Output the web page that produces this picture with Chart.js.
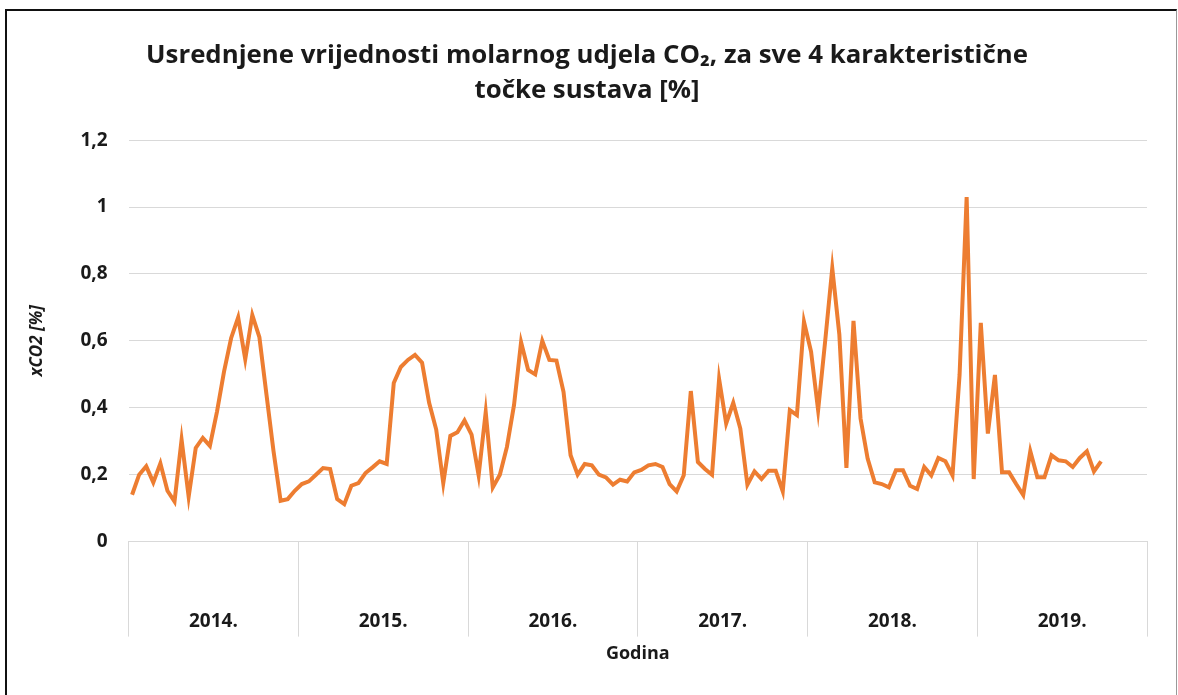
<!DOCTYPE html>
<html>
<head>
<meta charset="utf-8">
<script src="https://cdn.jsdelivr.net/npm/chart.js@4/dist/chart.umd.min.js"></script>
<style>
  html, body { margin: 0; padding: 0; background: #fff; }
  #frame {
    position: absolute; left: 5px; top: 9px; width: 1169px; height: 700px;
    border-top: 2px solid #111; border-left: 2px solid #111; border-right: 1px solid #999;
  }
  #wrap { position: absolute; left: 0; top: 0; width: 1178px; height: 695px; }
</style>
</head>
<body>
<div id="frame"></div>
<div id="wrap"><canvas id="chart-xco2"></canvas></div>
<script>
// Years shown on the category axis (24 half-month readings per year)
const years = ['2014.', '2015.', '2016.', '2017.', '2018.', '2019.'];
const periodsPerYear = 24;

// Averaged CO2 molar fraction [%] per period
const xco2_2014 = [0.14, 0.20, 0.225, 0.177, 0.234, 0.152, 0.12, 0.305, 0.134, 0.28, 0.31, 0.286,
                   0.388, 0.508, 0.608, 0.67, 0.545, 0.677, 0.611, 0.44, 0.27, 0.122, 0.127, 0.152];
const xco2_2015 = [0.172, 0.18, 0.20, 0.22, 0.217, 0.127, 0.112, 0.167, 0.175, 0.205, 0.222, 0.24,
                   0.232, 0.474, 0.522, 0.543, 0.558, 0.535, 0.415, 0.335, 0.175, 0.316, 0.327, 0.362];
const xco2_2016 = [0.32, 0.198, 0.387, 0.162, 0.2, 0.283, 0.408, 0.596, 0.513, 0.5, 0.6, 0.543,
                   0.541, 0.448, 0.258, 0.2, 0.232, 0.228, 0.2, 0.192, 0.17, 0.185, 0.18, 0.207];
const xco2_2017 = [0.214, 0.228, 0.232, 0.223, 0.172, 0.15, 0.198, 0.45, 0.238, 0.217, 0.2, 0.486,
                   0.353, 0.415, 0.338, 0.17, 0.21, 0.187, 0.212, 0.212, 0.15, 0.393, 0.378, 0.657];
const xco2_2018 = [0.568, 0.393, 0.6, 0.817, 0.619, 0.22, 0.66, 0.368, 0.248, 0.177, 0.172, 0.162,
                   0.213, 0.213, 0.167, 0.157, 0.223, 0.198, 0.25, 0.24, 0.198, 0.498, 1.03, 0.187];
const xco2_2019 = [0.654, 0.323, 0.498, 0.207, 0.207, 0.172, 0.139, 0.27, 0.192, 0.192, 0.258, 0.243,
                   0.24, 0.223, 0.25, 0.27, 0.21, 0.24];

// y axis ticks
const yMin = 0;
const yMax = 1.2;
const yStep = 0.2;

const lineColor = '#ED7D31';
const gridColor = '#D9D9D9';
const textColor = '#1a1a1a';
const fontFamily = '"Open Sans", Lato, sans-serif';

// one category per reading
const periods = [];
years.forEach(function(y) {
  for (let p = 1; p <= periodsPerYear; p++) periods.push(y + ' ' + p);
});
const xco2 = [].concat(xco2_2014, xco2_2015, xco2_2016, xco2_2017, xco2_2018, xco2_2019);

document.addEventListener('DOMContentLoaded', function() {
  const ctx = document.getElementById('chart-xco2');

  new Chart(ctx, {
    type: 'line',
    data: {
      labels: periods,
      datasets: [{
        label: 'xCO2',
        data: xco2,
        borderColor: lineColor,
        backgroundColor: lineColor,
        borderWidth: 4,
        pointRadius: 0,
        tension: 0,
        xAxisID: 'x',
        yAxisID: 'y'
      }]
    },
    options: {
      responsive: true,
      maintainAspectRatio: false,
      animation: false,
      layout: {
        padding: { left: 27, right: 31, top: 30, bottom: 30 }
      },
      plugins: {
        legend: { display: false },
        tooltip: { enabled: false },
        title: {
          display: true,
          text: ['Usrednjene vrijednosti molarnog udjela CO\u2082, za sve 4 karakteristične',
                 'točke sustava [%]'],
          color: textColor,
          font: { family: fontFamily, size: 25.8, weight: 'bold', lineHeight: 1.36 },
          padding: { top: 8, bottom: 32 }
        }
      },
      scales: {
        x: {
          type: 'category',
          display: false,
          offset: true
        },
        years: {
          type: 'category',
          position: 'bottom',
          labels: years,
          offset: true,
          grid: {
            offset: true,
            drawOnChartArea: false,
            color: gridColor,
            tickLength: 95,
            lineWidth: 1
          },
          border: { color: gridColor },
          ticks: {
            color: textColor,
            padding: -26,
            maxRotation: 0,
            font: { family: fontFamily, size: 19, weight: 'bold' }
          },
          title: {
            display: true,
            text: 'Godina',
            color: textColor,
            font: { family: fontFamily, size: 18, weight: 'bold' },
            padding: { top: 36, bottom: 0 }
          }
        },
        y: {
          min: yMin,
          max: yMax,
          border: { display: false },
          grid: { color: gridColor, drawTicks: false },
          ticks: {
            stepSize: yStep,
            padding: 21,
            color: textColor,
            font: { family: fontFamily, size: 19, weight: 'bold' },
            callback: function(value) {
              return String(Number(value.toFixed(1))).replace('.', ',');
            }
          },
          title: {
            display: true,
            text: 'xCO2 [%]',
            color: textColor,
            font: { family: fontFamily, size: 17, weight: 'bold', style: 'italic' },
            padding: { top: 0, bottom: 12 }
          }
        }
      }
    }
  });
});
</script>
</body>
</html>
